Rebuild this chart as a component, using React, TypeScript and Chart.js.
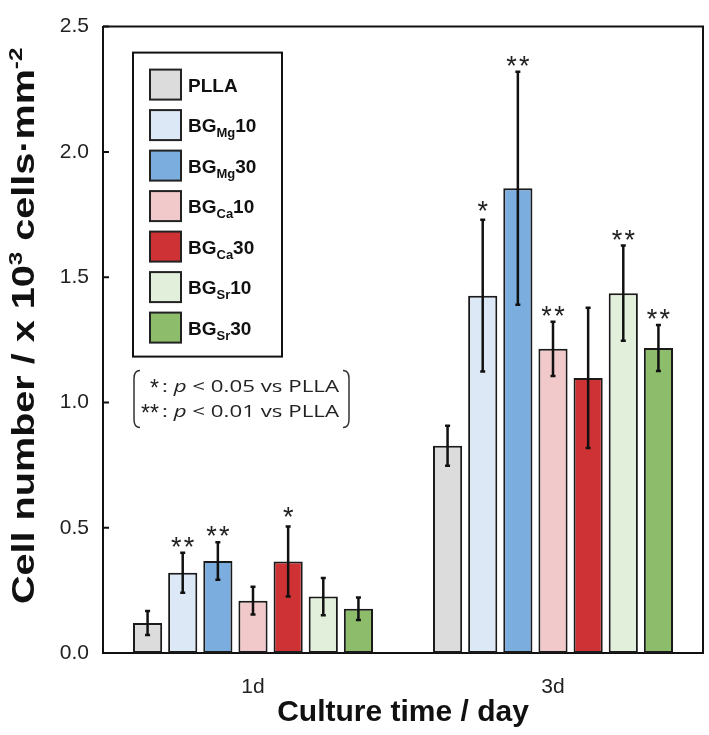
import React, { useEffect, useRef } from "react";
import { Chart, registerables } from "chart.js";

Chart.register(...registerables);

// ---- data ----
const categories = ["1d", "3d"];
const seriesKeys = ["PLLA", "BGMg10", "BGMg30", "BGCa10", "BGCa30", "BGSr10", "BGSr30"];
// legend label parts: [main, subscript, tail]
const legendParts: [string, string, string][] = [
  ["PLLA", "", ""],
  ["BG", "Mg", "10"],
  ["BG", "Mg", "30"],
  ["BG", "Ca", "10"],
  ["BG", "Ca", "30"],
  ["BG", "Sr", "10"],
  ["BG", "Sr", "30"],
];
const pllaValues = [0.12, 0.827];
const mg10Values = [0.32, 1.426];
const mg30Values = [0.367, 1.855];
const ca10Values = [0.209, 1.214];
const ca30Values = [0.365, 1.098];
const sr10Values = [0.225, 1.436];
const sr30Values = [0.177, 1.217];

const pllaErrors = [0.048, 0.08];
const mg10Errors = [0.08, 0.303];
const mg30Errors = [0.075, 0.465];
const ca10Errors = [0.055, 0.108];
const ca30Errors = [0.14, 0.28];
const sr10Errors = [0.074, 0.19];
const sr30Errors = [0.045, 0.092];

const pllaStars = ["", ""];
const mg10Stars = ["**", "*"];
const mg30Stars = ["**", "**"];
const ca10Stars = ["", "**"];
const ca30Stars = ["*", ""];
const sr10Stars = ["", "**"];
const sr30Stars = ["", "**"];

const yTicks = [0, 0.5, 1.0, 1.5, 2.0, 2.5];

const seriesValues = [pllaValues, mg10Values, mg30Values, ca10Values, ca30Values, sr10Values, sr30Values];
const seriesErrors = [pllaErrors, mg10Errors, mg30Errors, ca10Errors, ca30Errors, sr10Errors, sr30Errors];
const seriesStars = [pllaStars, mg10Stars, mg30Stars, ca10Stars, ca30Stars, sr10Stars, sr30Stars];
const seriesColors = ["#dcdcdc", "#dce8f5", "#7badde", "#f2c9cb", "#cf3235", "#e2efda", "#8dbd6b"];

const SANS = "'Liberation Sans', Arial, sans-serif";

const framePlugin = {
  id: "frame",
  afterDatasetsDraw(chart: any) {
    const { ctx, chartArea: a } = chart;
    ctx.save();
    ctx.strokeStyle = "#111";
    ctx.lineWidth = 2;
    ctx.beginPath();
    ctx.moveTo(a.left, a.top);
    ctx.lineTo(a.right, a.top);
    ctx.lineTo(a.right, a.bottom);
    ctx.stroke();
    const y = chart.scales.y;
    ctx.beginPath();
    yTicks.forEach((v) => {
      const py = y.getPixelForValue(v);
      ctx.moveTo(a.left, py);
      ctx.lineTo(a.left + 6, py);
    });
    ctx.stroke();
    ctx.restore();
  },
};

const errorPlugin = {
  id: "errorbars",
  afterDatasetsDraw(chart: any) {
    const { ctx } = chart;
    const y = chart.scales.y;
    ctx.save();
    ctx.strokeStyle = "#111";
    ctx.fillStyle = "#222";
    chart.data.datasets.forEach((ds: any, di: number) => {
      const meta = chart.getDatasetMeta(di);
      meta.data.forEach((bar: any, i: number) => {
        const v = ds.data[i];
        const e = seriesErrors[di][i];
        const top = y.getPixelForValue(v + e);
        const bot = y.getPixelForValue(v - e);
        ctx.lineWidth = 2.5;
        ctx.beginPath();
        ctx.moveTo(bar.x, top);
        ctx.lineTo(bar.x, bot);
        ctx.stroke();
        ctx.beginPath();
        ctx.moveTo(bar.x - 2.5, top);
        ctx.lineTo(bar.x + 2.5, top);
        ctx.moveTo(bar.x - 2.5, bot);
        ctx.lineTo(bar.x + 2.5, bot);
        ctx.stroke();
        const s = seriesStars[di][i];
        if (s) {
          ctx.font = `27px ${SANS}`;
          ctx.textAlign = "center";
          ctx.textBaseline = "alphabetic";
          const txt = s.split("").join("\u200A");
          ctx.fillText(txt, bar.x, top + (s.length === 1 ? 0 : 3));
        }
      });
    });
    ctx.restore();
  },
};

const legendPlugin = {
  id: "customLegend",
  afterDraw(chart: any) {
    const { ctx, chartArea: a } = chart;
    const bx = a.left + 30;
    const by = a.top + 26;
    const bw = 149;
    const bh = 304;
    ctx.save();
    ctx.fillStyle = "#fff";
    ctx.fillRect(bx, by, bw, bh);
    ctx.strokeStyle = "#111";
    ctx.lineWidth = 2;
    ctx.strokeRect(bx, by, bw, bh);
    chart.data.datasets.forEach((ds: any, i: number) => {
      const sx = bx + 17;
      const sy = by + 17 + i * 40.5;
      ctx.fillStyle = ds.backgroundColor;
      ctx.fillRect(sx, sy, 31, 30);
      ctx.strokeStyle = "#222";
      ctx.lineWidth = 2;
      ctx.strokeRect(sx, sy, 31, 30);
      const [m, sub, tail] = legendParts[i];
      let tx = sx + 38;
      const base = sy + 22;
      ctx.fillStyle = "#111";
      ctx.textBaseline = "alphabetic";
      ctx.textAlign = "left";
      ctx.font = `bold 19px ${SANS}`;
      ctx.fillText(m, tx, base);
      tx += ctx.measureText(m).width;
      if (sub) {
        ctx.font = `bold 13px ${SANS}`;
        ctx.fillText(sub, tx, base + 5);
        tx += ctx.measureText(sub).width;
        ctx.font = `bold 19px ${SANS}`;
        ctx.fillText(tail, tx, base);
      }
    });
    ctx.restore();
  },
};

const notePlugin = {
  id: "note",
  afterDraw(chart: any) {
    const { ctx, chartArea: a } = chart;
    const left = a.left + 31;
    const right = a.left + 246;
    const top = a.top + 344;
    const bottom = a.top + 401;
    ctx.save();
    ctx.strokeStyle = "#333";
    ctx.lineWidth = 1.5;
    ctx.beginPath();
    ctx.moveTo(left + 6, top);
    ctx.quadraticCurveTo(left, top, left, top + 8);
    ctx.lineTo(left, bottom - 8);
    ctx.quadraticCurveTo(left, bottom, left + 6, bottom);
    ctx.moveTo(right - 6, top);
    ctx.quadraticCurveTo(right, top, right, top + 8);
    ctx.lineTo(right, bottom - 8);
    ctx.quadraticCurveTo(right, bottom, right - 6, bottom);
    ctx.stroke();

    const rows = [
      { stars: "*", val: "0.05", base: top + 21 },
      { stars: "**", val: "0.01", base: top + 46 },
    ];
    const fam = "'Open Sans', 'Noto Sans', sans-serif";
    ctx.fillStyle = "#222";
    ctx.textBaseline = "alphabetic";
    rows.forEach((r) => {
      ctx.font = `23px ${SANS}`;
      ctx.textAlign = "right";
      ctx.fillText(r.stars, left + 25, r.base + 4);
      const segs = [
        { t: ": ", it: false },
        { t: "p", it: true },
        { t: " < " + r.val + " vs PLLA", it: false },
      ];
      const size = 17;
      let total = 0;
      segs.forEach((s) => {
        ctx.font = `${s.it ? "italic " : ""}${size}px ${fam}`;
        total += ctx.measureText(s.t).width;
      });
      const x0 = left + 28;
      const target = right - 10 - x0;
      const sc = target / total;
      ctx.save();
      ctx.translate(x0, r.base);
      ctx.scale(sc, 1);
      ctx.textAlign = "left";
      let x = 0;
      segs.forEach((s) => {
        ctx.font = `${s.it ? "italic " : ""}${size}px ${fam}`;
        ctx.fillText(s.t, x, 0);
        x += ctx.measureText(s.t).width;
      });
      ctx.restore();
    });
    ctx.restore();
  },
};

// y-axis title with real superscripts, drawn along the axis
const yTitlePlugin = {
  id: "yTitle",
  afterDraw(chart: any) {
    const { ctx, chartArea: a } = chart;
    const parts = [
      { t: "Cell number / x 10", sup: false },
      { t: "3", sup: true },
      { t: " cells\u00B7mm", sup: false },
      { t: "-2", sup: true },
    ];
    const big = 31;
    const small = 19;
    ctx.save();
    let total = 0;
    parts.forEach((p) => {
      ctx.font = `bold ${p.sup ? small : big}px ${SANS}`;
      total += ctx.measureText(p.t).width;
    });
    const startY = a.bottom - 49;
    const endY = a.top + 21;
    const target = startY - endY;
    const sc = target / total;
    ctx.translate(34, startY);
    ctx.rotate(-Math.PI / 2);
    ctx.scale(sc, 1);
    ctx.fillStyle = "#111";
    ctx.textAlign = "left";
    ctx.textBaseline = "alphabetic";
    let x = 0;
    parts.forEach((p) => {
      ctx.font = `bold ${p.sup ? small : big}px ${SANS}`;
      ctx.fillText(p.t, x, p.sup ? -12 : 0);
      x += ctx.measureText(p.t).width;
    });
    ctx.restore();
  },
};

export default function App() {
  const ref = useRef<HTMLCanvasElement>(null);
  useEffect(() => {
    if (!ref.current) return;
    const chart = new Chart(ref.current, {
      type: "bar",
      data: {
        labels: categories,
        datasets: seriesKeys.map((k, i) => ({
          label: k,
          data: seriesValues[i],
          backgroundColor: seriesColors[i],
          borderColor: "#1a1a1a",
          borderWidth: 2,
          borderSkipped: false,
          categoryPercentage: 0.82,
          barPercentage: 0.83,
        })),
      },
      options: {
        animation: false,
        responsive: false,
        maintainAspectRatio: false,
        layout: { padding: { left: 0, right: 6, top: 13, bottom: 0 } },
        plugins: {
          legend: { display: false },
          tooltip: { enabled: false },
        },
        scales: {
          x: {
            grid: { display: false, drawTicks: false },
            border: { display: true, color: "#111", width: 2 },
            ticks: {
              padding: 22,
              color: "#222",
              font: { family: SANS, size: 21 },
            },
            title: {
              display: true,
              text: "Culture time / day",
              color: "#111",
              font: { family: SANS, size: 30, weight: "bold", lineHeight: 1 },
              padding: { top: 0, bottom: 7 },
            },
            afterFit: (s: any) => {
              s.height = 82;
            },
          },
          y: {
            min: 0,
            max: 2.5,
            grid: { display: false, drawTicks: false },
            border: { display: true, color: "#111", width: 2 },
            ticks: {
              stepSize: 0.5,
              padding: 14,
              color: "#222",
              font: { family: SANS, size: 21 },
              callback: (v: any) => Number(v).toFixed(1),
            },
            title: { display: false },
            afterFit: (s: any) => {
              s.width = 103;
            },
          },
        },
      },
      plugins: [framePlugin, errorPlugin, legendPlugin, notePlugin, yTitlePlugin],
    });
    return () => chart.destroy();
  }, []);
  return (
    <div style={{ position: "absolute", left: 0, top: 0, width: 709, height: 735, background: "#fff" }}>
      <canvas ref={ref} width={709} height={735} style={{ display: "block" }} />
    </div>
  );
}
